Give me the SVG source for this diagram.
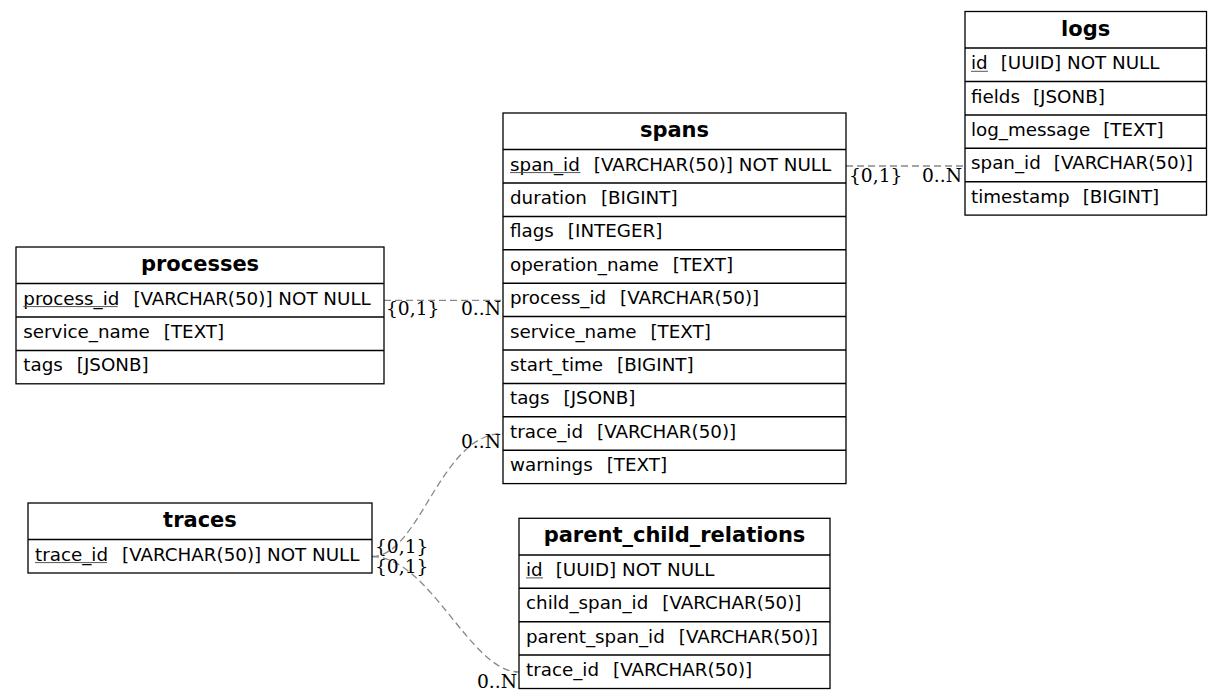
<svg xmlns="http://www.w3.org/2000/svg" width="1221" height="699" viewBox="0 0 1221 699">
<style>
.box{fill:#fff;stroke:#000;stroke-width:1.3}
.div{stroke:#000;stroke-width:1.5}
.h{font-family:"DejaVu Sans",sans-serif;font-weight:bold;font-size:21px;text-anchor:middle;fill:#000}
.t{font-family:"DejaVu Sans",sans-serif;font-size:18.3px;fill:#000}
.u{stroke:#555;stroke-width:1}
.e{fill:none;stroke:#888;stroke-width:1.3;stroke-dasharray:7,4}
.l{font-family:"DejaVu Serif",serif;font-size:18.67px;fill:#000}
.r{text-anchor:end}
</style>
<rect width="1221" height="699" fill="#fff"/>
<g id="connectors">
<path class="e" d="M384,300.3 L503,300.3"/>
<path class="e" d="M846,166 L965,166"/>
<path class="e" d="M372,556.5 C420,556.5 440,433.5 503,433.5"/>
<path class="e" d="M372,556.5 C430,556.5 470,672 519,672"/>
<text class="l" x="386" y="315">{0,1}</text>
<text class="l r" x="501" y="315">0..N</text>
<text class="l" x="849" y="182">{0,1}</text>
<text class="l r" x="962" y="182">0..N</text>
<text class="l r" x="501" y="448">0..N</text>
<text class="l" x="375" y="553">{0,1}</text>
<text class="l" x="375" y="573">{0,1}</text>
<text class="l r" x="517" y="688">0..N</text>
</g>
<g id="logs">
<rect class="box" x="965" y="11.5" width="241.5" height="203.6"/>
<line class="div" x1="965" y1="48.1" x2="1206.5" y2="48.1"/>
<line class="div" x1="965" y1="81.5" x2="1206.5" y2="81.5"/>
<line class="div" x1="965" y1="114.9" x2="1206.5" y2="114.9"/>
<line class="div" x1="965" y1="148.3" x2="1206.5" y2="148.3"/>
<line class="div" x1="965" y1="181.7" x2="1206.5" y2="181.7"/>
<text class="h" x="1085.7" y="35.5">logs</text>
<text class="t" x="971" y="69.1">id<tspan dx="13">[UUID] NOT NULL</tspan></text>
<line class="u" x1="971" y1="71.3" x2="988" y2="71.3"/>
<text class="t" x="971" y="102.5">fields<tspan dx="13">[JSONB]</tspan></text>
<text class="t" x="971" y="135.9">log_message<tspan dx="13">[TEXT]</tspan></text>
<text class="t" x="971" y="169.3">span_id<tspan dx="13">[VARCHAR(50)]</tspan></text>
<text class="t" x="971" y="202.7">timestamp<tspan dx="13">[BIGINT]</tspan></text>
</g>
<g id="spans">
<rect class="box" x="503" y="113" width="343" height="370.6"/>
<line class="div" x1="503" y1="149.6" x2="846" y2="149.6"/>
<line class="div" x1="503" y1="183" x2="846" y2="183"/>
<line class="div" x1="503" y1="216.4" x2="846" y2="216.4"/>
<line class="div" x1="503" y1="249.8" x2="846" y2="249.8"/>
<line class="div" x1="503" y1="283.2" x2="846" y2="283.2"/>
<line class="div" x1="503" y1="316.6" x2="846" y2="316.6"/>
<line class="div" x1="503" y1="350" x2="846" y2="350"/>
<line class="div" x1="503" y1="383.4" x2="846" y2="383.4"/>
<line class="div" x1="503" y1="416.8" x2="846" y2="416.8"/>
<line class="div" x1="503" y1="450.2" x2="846" y2="450.2"/>
<text class="h" x="674.5" y="137">spans</text>
<text class="t" x="510" y="170.6">span_id<tspan dx="14">[VARCHAR(50)] NOT NULL</tspan></text>
<line class="u" x1="510" y1="172.6" x2="580.5" y2="172.6"/>
<text class="t" x="510" y="204">duration<tspan dx="14">[BIGINT]</tspan></text>
<text class="t" x="510" y="237.4">flags<tspan dx="14">[INTEGER]</tspan></text>
<text class="t" x="510" y="270.8">operation_name<tspan dx="14">[TEXT]</tspan></text>
<text class="t" x="510" y="304.2">process_id<tspan dx="14">[VARCHAR(50)]</tspan></text>
<text class="t" x="510" y="337.6">service_name<tspan dx="14">[TEXT]</tspan></text>
<text class="t" x="510" y="371">start_time<tspan dx="14">[BIGINT]</tspan></text>
<text class="t" x="510" y="404.4">tags<tspan dx="14">[JSONB]</tspan></text>
<text class="t" x="510" y="437.8">trace_id<tspan dx="14">[VARCHAR(50)]</tspan></text>
<text class="t" x="510" y="471.2">warnings<tspan dx="14">[TEXT]</tspan></text>
</g>
<g id="processes">
<rect class="box" x="16" y="247" width="368" height="136.8"/>
<line class="div" x1="16" y1="283.6" x2="384" y2="283.6"/>
<line class="div" x1="16" y1="317" x2="384" y2="317"/>
<line class="div" x1="16" y1="350.4" x2="384" y2="350.4"/>
<text class="h" x="200" y="271">processes</text>
<text class="t" x="23.3" y="304.6">process_id<tspan dx="14">[VARCHAR(50)] NOT NULL</tspan></text>
<line class="u" x1="23.3" y1="306.6" x2="117.7" y2="306.6"/>
<text class="t" x="23.3" y="338">service_name<tspan dx="14">[TEXT]</tspan></text>
<text class="t" x="23.3" y="371.4">tags<tspan dx="14">[JSONB]</tspan></text>
</g>
<g id="traces">
<rect class="box" x="28" y="503" width="344" height="70"/>
<line class="div" x1="28" y1="539.6" x2="372" y2="539.6"/>
<text class="h" x="200" y="527">traces</text>
<text class="t" x="35" y="560.6">trace_id<tspan dx="14">[VARCHAR(50)] NOT NULL</tspan></text>
<line class="u" x1="35" y1="562.6" x2="107" y2="562.6"/>
</g>
<g id="parent_child_relations">
<rect class="box" x="519" y="518.3" width="311" height="170.2"/>
<line class="div" x1="519" y1="554.9" x2="830" y2="554.9"/>
<line class="div" x1="519" y1="588.3" x2="830" y2="588.3"/>
<line class="div" x1="519" y1="621.7" x2="830" y2="621.7"/>
<line class="div" x1="519" y1="655.1" x2="830" y2="655.1"/>
<text class="h" x="674.5" y="542.3">parent_child_relations</text>
<text class="t" x="526" y="575.9">id<tspan dx="13">[UUID] NOT NULL</tspan></text>
<line class="u" x1="526" y1="577.9" x2="543" y2="577.9"/>
<text class="t" x="526" y="609.3">child_span_id<tspan dx="14">[VARCHAR(50)]</tspan></text>
<text class="t" x="526" y="642.7">parent_span_id<tspan dx="14">[VARCHAR(50)]</tspan></text>
<text class="t" x="526" y="676.1">trace_id<tspan dx="14">[VARCHAR(50)]</tspan></text>
</g>
</svg>
